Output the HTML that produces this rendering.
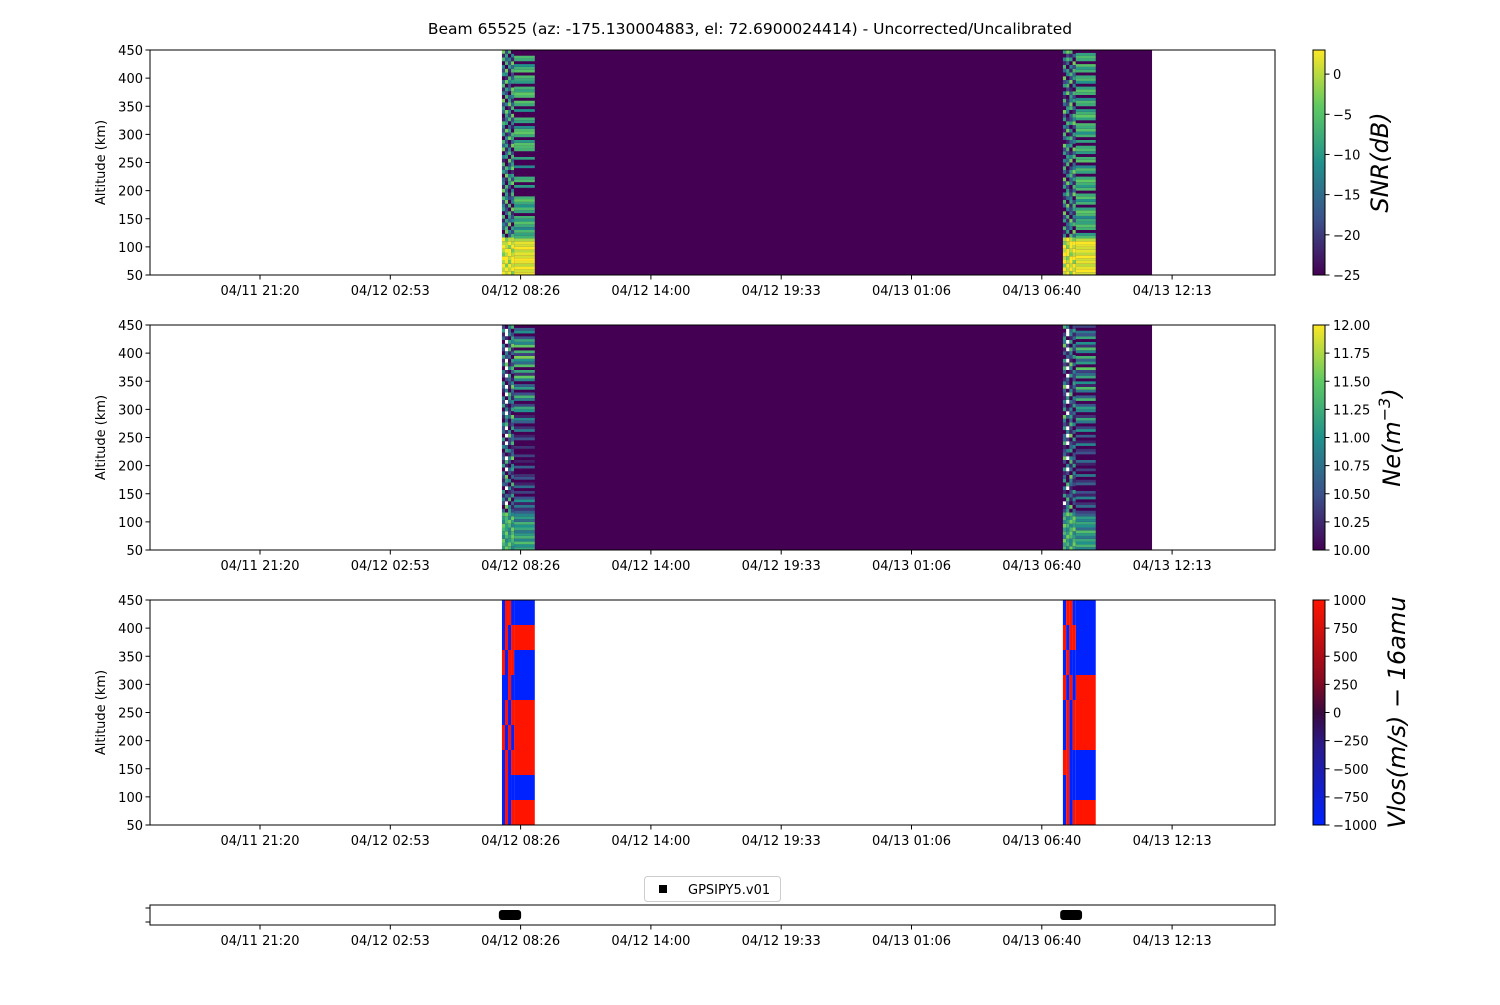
<!DOCTYPE html>
<html><head><meta charset="utf-8"><style>
html,body{margin:0;padding:0;background:#fff;}
svg text{font-family:"DejaVu Sans","Liberation Sans",sans-serif;}
</style></head><body>
<svg id="fig" xmlns="http://www.w3.org/2000/svg" width="1500" height="1000" viewBox="0 0 1500 1000">
<defs>
<linearGradient id="gViridis" x1="0" y1="1" x2="0" y2="0">
<stop offset="0" stop-color="#440154"/><stop offset="0.25" stop-color="#3b528b"/><stop offset="0.5" stop-color="#21918c"/><stop offset="0.75" stop-color="#5ec962"/><stop offset="1" stop-color="#fde725"/>
</linearGradient>
<linearGradient id="gVlos" x1="0" y1="1" x2="0" y2="0">
<stop offset="0" stop-color="#0022ff"/><stop offset="0.35" stop-color="#2a1a8a"/><stop offset="0.5" stop-color="#3a0a40"/><stop offset="0.65" stop-color="#8a0a20"/><stop offset="1" stop-color="#ff1400"/>
</linearGradient>
</defs>
<text x="750" y="34" text-anchor="middle" font-size="15.5">Beam 65525 (az: -175.130004883, el: 72.6900024414) - Uncorrected/Uncalibrated</text>
<g id="layer"></g>
</svg>
<script>
// ---- data ----
const tickTimes = [1280, 1613.33, 1946.67, 2280, 2613.33, 2946.67, 3280, 3613.33];
const tickLabels = ["04/11 21:20","04/12 02:53","04/12 08:26","04/12 14:00","04/12 19:33","04/13 01:06","04/13 06:40","04/13 12:13"];
const altTicks = [50,100,150,200,250,300,350,400,450];
const block1 = [1899, 1930, 1983];
const block2 = [3334, 3367, 3418];
const darkSpan = [1899, 3562];
const markerSpans = [[1891, 1948], [3327, 3383]];
const snrTicks = [0,-5,-10,-15,-20,-25];
const neTicks = [10,10.25,10.5,10.75,11,11.25,11.5,11.75,12];
const vlosTicks = [-1000,-750,-500,-250,0,250,500,750,1000];

const snrStripe1 = [2,1,3,0,2,3,1,2,0,3,1,2,-1,-7,-9,-6,-12,-8,-5,-10,-7,-25,-9,-6,-11,-8,-4,-7,-25,-25,-25,-10,-25,-6,-8,-25,-25,-25,-12,-25,-25,-9,-25,-25,-7,-6,-5,-10,-25,-8,-4,-6,-12,-25,-9,-7,-25,-25,-11,-25,-8,-5,-25,-6,-4,-9,-7,-25,-10,-8,-6,-25,-5,-7,-11,-25,-8,-6,-25,-25];
const snrStripe2 = [1,3,2,0,2,1,3,0,2,1,2,3,0,-6,-10,-25,-7,-5,-9,-8,-12,-6,-4,-9,-25,-7,-11,-5,-8,-25,-6,-10,-7,-4,-8,-25,-9,-6,-12,-25,-5,-7,-25,-10,-6,-8,-25,-9,-25,-7,-11,-5,-8,-6,-25,-9,-4,-7,-10,-25,-8,-6,-12,-25,-7,-5,-9,-25,-11,-6,-8,-25,-7,-10,-5,-25,-8,-6,-9,-25];
const neStripe1 = [11.2,11.0,11.4,10.9,11.3,11.1,10.8,11.2,11.0,11.3,10.7,11.1,10.9,10.6,10.3,10.8,10.2,11.0,10.5,10.0,10.4,10.0,10.7,10.2,10.0,10.5,10.3,10.0,10.0,10.6,10.0,10.2,10.0,10.4,10.0,10.0,10.3,10.0,10.0,10.5,10.2,10.0,10.8,10.3,10.0,10.6,10.9,10.2,10.0,11.0,11.2,10.4,10.0,10.8,11.3,10.5,10.0,11.1,10.6,10.0,10.9,11.5,10.3,11.2,10.0,11.4,10.7,11.0,11.6,10.4,11.3,10.0,11.5,10.9,11.2,10.5,10.0,11.0,10.6,10.0];
const neStripe2 = [10.9,11.3,11.0,11.2,10.8,11.1,11.4,10.7,11.0,11.2,10.9,11.1,10.6,10.4,10.0,10.7,10.3,10.0,10.9,10.2,10.5,10.0,10.0,10.6,10.3,10.0,10.8,10.0,10.4,10.0,10.2,10.7,10.0,10.0,10.5,10.3,10.0,10.9,10.2,10.0,10.6,10.0,11.0,10.4,10.0,10.8,11.2,10.3,10.0,10.9,11.1,10.5,10.0,11.3,10.6,10.0,10.8,11.4,10.2,11.0,10.0,11.2,10.7,10.4,11.5,10.0,11.1,10.6,11.3,10.0,10.9,11.4,10.3,11.0,10.0,11.2,10.5,10.8,10.0,10.4];
const snrSpeckle1 = "9897 8989 9798 8979 9989 7898 8997 9879 8898 9788 5036 0742 3605 4270 1534 6052 0361 5207 4160 2704 6423 0516 7304 1620 4057 3162 0745 5301 2647 6025 1073 4506 0362 7140 3517 6203 0475 5126 2750 4031 6504 1362 0527 3740 5016 2473 7051 0634 4206 1537 6020 3745 0163 5402 2716 4053 0627 6341 1504 7260";
const snrSpeckle2 = "8979 9898 7989 9897 8799 9978 8989 9798 7899 8987 4063 1507 6240 0356 5172 2604 7031 0425 3716 6052 1340 4627 0513 5206 2741 7035 0462 3157 6024 1603 4370 0546 5213 2607 7450 0134 3562 6015 1740 4302 0657 5124 2036 7401 0563 3270 6145 1052 4736 0210 5604 2371 7025 0463 3516 6042 1307 4650 0213 5760";
const neSpeckle1 = "5764 6575 7456 4657 5746 6547 7564 4675 5647 6754 3052 0741 2.03 4160 1325 5012 0.41 3206 1540 2703 4021 0.35 5104 1620 3.47 2013 0542 4301 1.26 5023 0.73 3140 2.05 4612 0304 1537 3.20 0415 5102 2.34 4051 0.62 1403 3.17 5024 0231 2.50 4103 0.46 3712 1.05 5230 0413 2.61 4027 0.54 3105 1.42 5.30 2046";
const neSpeckle2 = "6475 5647 7546 4765 6574 5467 7645 4576 6457 5764 2503 1470 .302 0614 5231 1025 4.10 0632 5041 3072 1204 5.30 0415 2061 7.43 3102 2450 1034 6.21 3205 3.70 0413 5.20 2164 4030 7351 0.23 5140 2015 4.32 1504 2.60 3041 7.13 4205 1302 0.52 3014 6.40 2173 5.10 0325 3140 1.62 7204 4.50 5013 2.41 0.35 6402";
const vlosWide1 = [900,-900,900,900,900,-900,-900,900,-900];
const vlosWide2 = [900,-900,-900,900,900,900,-900,-900,-900];
const vlosNarrow1 = ["BRBR","BRBB","BRBR","RBRB","BRBR","BBRB","RBRR","BRBR","BRRB"];
const vlosNarrow2 = ["BRBR","BRBB","RRBB","BRBR","BRBR","RBRB","BRBB","RBRR","BRRB"];

// ---- scales ----
const X0 = 150, X1 = 1275;
function xOf(t){ return 260 + (t - 1280) * 130.3 / 333.333; }
const panelTops = [50, 325, 600], PH = 225;
function yOf(top, alt){ return top + PH - (alt - 50) / 400 * PH; }
const NS = "http://www.w3.org/2000/svg";
const layer = document.getElementById('layer');
const FS = 13;
function mk(tag, attrs, parent){
  const e = document.createElementNS(NS, tag);
  for (const k in attrs) e.setAttribute(k, attrs[k]);
  (parent || layer).appendChild(e);
  return e;
}
const vir = [[68,1,84],[59,82,139],[33,145,140],[94,201,98],[253,231,37]];
function viridis(f){
  f = Math.max(0, Math.min(1, f));
  const p = f * 4, i = Math.min(3, Math.floor(p)), r = p - i;
  const a = vir[i], b = vir[i+1];
  return `rgb(${Math.round(a[0]+(b[0]-a[0])*r)},${Math.round(a[1]+(b[1]-a[1])*r)},${Math.round(a[2]+(b[2]-a[2])*r)})`;
}
function vlosColor(v){ return v >= 0 ? '#ff1400' : '#0022ff'; }

function drawStripe(g, top, tA, tB, vals, vmin, vmax){
  const n = vals.length, x = xOf(tA), w = xOf(tB) - x;
  vals.forEach((v, i) => {
    if (v === null) return;
    const a0 = 50 + i * 400 / n, a1 = 50 + (i + 1) * 400 / n;
    const r = mk('rect', {x: x, y: yOf(top, a1), width: w, height: yOf(top, a0) - yOf(top, a1), fill: viridis((v - vmin) / (vmax - vmin))}, g);
    
    
  });
}
function drawSpeckle(g, top, tA, tB, str, vmin, vmax){
  const rows = str.split(' '), n = rows.length, x0 = xOf(tA), W = xOf(tB) - x0;
  rows.forEach((row, i) => {
    const a0 = 50 + i * 400 / n, a1 = 50 + (i + 1) * 400 / n;
    const cw = W / row.length;
    for (let j = 0; j < row.length; j++) {
      const c = row[j];
      let fill = '#ffffff';
      if (c !== '.') { const v = vmin + (+c) / 9 * (vmax - vmin); fill = viridis((v - vmin) / (vmax - vmin)); }
      const r = mk('rect', {x: x0 + j * cw, y: yOf(top, a1), width: cw, height: yOf(top, a0) - yOf(top, a1), fill: fill}, g);
      
      
    }
  });
}
function drawVlos(g, top, blk, wide, narrow){
  const n = wide.length;
  wide.forEach((v, i) => {
    const a0 = 50 + i * 400 / n, a1 = 50 + (i + 1) * 400 / n;
    const y = yOf(top, a1), h = yOf(top, a0) - y;
    const r = mk('rect', {x: xOf(blk[1]), y: y, width: xOf(blk[2]) - xOf(blk[1]), height: h, fill: vlosColor(v)}, g);
    
    
    const row = narrow[i], W = xOf(blk[1]) - xOf(blk[0]), cw = W / row.length;
    for (let j = 0; j < row.length; j++) {
      const c = mk('rect', {x: xOf(blk[0]) + j * cw, y: y, width: cw, height: h, fill: row[j] === 'R' ? '#ff1400' : '#0022ff'}, g);
      
      
    }
  });
}
function xAxis(top, h){
  const g = mk('g', {});
  
  
  tickTimes.forEach((t, i) => {
    const x = xOf(t);
    mk('line', {x1: x, x2: x, y1: top + h, y2: top + h + 4.5, stroke: '#000', 'stroke-width': 1}, g);
    const tx = mk('text', {x: x, y: top + h + 20, 'text-anchor': 'middle', 'font-size': FS}, g);
    
    
    tx.textContent = tickLabels[i];
  });
}
function yAxis(top){
  const g = mk('g', {});
  
  
  altTicks.forEach(a => {
    const y = yOf(top, a);
    mk('line', {x1: X0 - 4.5, x2: X0, y1: y, y2: y, stroke: '#000', 'stroke-width': 1}, g);
    const tx = mk('text', {x: X0 - 7, y: y + 5, 'text-anchor': 'end', 'font-size': FS}, g);
    
    
    tx.textContent = a;
  });
  const lab = mk('text', {x: 105, y: top + PH / 2, 'text-anchor': 'middle', 'font-size': FS, transform: `rotate(-90 105 ${top + PH / 2})`}, g);
  
  
  lab.textContent = 'Altitude (km)';
}
function colorbar(top, grad, ticks, vmin, vmax, labelParts, lx, twoDec){
  const g = mk('g', {});
  
  
  mk('rect', {x: 1313, y: top, width: 12, height: PH, fill: `url(#${grad})`, stroke: '#000', 'stroke-width': 1}, g);
  ticks.forEach(v => {
    const y = top + PH - (v - vmin) / (vmax - vmin) * PH;
    mk('line', {x1: 1325, x2: 1329.5, y1: y, y2: y, stroke: '#000'}, g);
    const tx = mk('text', {x: 1333, y: y + 5, 'font-size': FS}, g);
    
    
    tx.textContent = twoDec ? v.toFixed(2) : (v < 0 ? '\u2212' + Math.abs(v) : String(v));
  });
  const cy = top + PH / 2;
  const lab = mk('text', {x: lx, y: cy, 'text-anchor': 'middle', 'font-size': 24, 'font-style': 'italic', transform: `rotate(-90 ${lx} ${cy})`}, g);
  
  
  lab.innerHTML = labelParts;
}

// Panel 1: SNR
(function(){
  const top = panelTops[0];
  const g = mk('g', {});
  
  
  mk('rect', {x: xOf(darkSpan[0]), y: top, width: xOf(darkSpan[1]) - xOf(darkSpan[0]), height: PH, fill: '#440154'}, g);
  drawSpeckle(g, top, block1[0], block1[1], snrSpeckle1, -25, 3);
  drawStripe(g, top, block1[1], block1[2], snrStripe1, -25, 3);
  drawSpeckle(g, top, block2[0], block2[1], snrSpeckle2, -25, 3);
  drawStripe(g, top, block2[1], block2[2], snrStripe2, -25, 3);
  mk('rect', {x: X0, y: top, width: X1 - X0, height: PH, fill: 'none', stroke: '#000', 'stroke-width': 1});
  xAxis(top, PH); yAxis(top);
  colorbar(top, 'gViridis', snrTicks, -25, 3, 'SNR(dB)', 1388, false);
})();
// Panel 2: Ne
(function(){
  const top = panelTops[1];
  const g = mk('g', {});
  
  
  mk('rect', {x: xOf(darkSpan[0]), y: top, width: xOf(darkSpan[1]) - xOf(darkSpan[0]), height: PH, fill: '#440154'}, g);
  drawSpeckle(g, top, block1[0], block1[1], neSpeckle1, 10, 12);
  drawStripe(g, top, block1[1], block1[2], neStripe1, 10, 12);
  drawSpeckle(g, top, block2[0], block2[1], neSpeckle2, 10, 12);
  drawStripe(g, top, block2[1], block2[2], neStripe2, 10, 12);
  mk('rect', {x: X0, y: top, width: X1 - X0, height: PH, fill: 'none', stroke: '#000', 'stroke-width': 1});
  xAxis(top, PH); yAxis(top);
  colorbar(top, 'gViridis', neTicks, 10, 12, 'Ne(m<tspan font-size="16" dy="-10">\u22123</tspan><tspan dy="10">)</tspan>', 1400, true);
})();
// Panel 3: Vlos
(function(){
  const top = panelTops[2];
  const g = mk('g', {});
  
  
  drawVlos(g, top, block1, vlosWide1, vlosNarrow1);
  drawVlos(g, top, block2, vlosWide2, vlosNarrow2);
  mk('rect', {x: X0, y: top, width: X1 - X0, height: PH, fill: 'none', stroke: '#000', 'stroke-width': 1});
  xAxis(top, PH); yAxis(top);
  colorbar(top, 'gVlos', vlosTicks, -1000, 1000, 'Vlos(m/s) \u2212 16amu', 1405, false);
})();
// Panel 4: data availability
(function(){
  const top = 905, h = 20;
  const g = mk('g', {});
  
  
  markerSpans.forEach(s => {
    const r = mk('rect', {x: xOf(s[0]), y: top + 5, width: xOf(s[1]) - xOf(s[0]), height: 10, rx: 3, fill: '#000'}, g);
    
    
  });
  mk('rect', {x: X0, y: top, width: X1 - X0, height: h, fill: 'none', stroke: '#000', 'stroke-width': 1}, g);
  [908, 922].forEach(y => mk('line', {x1: X0 - 4.5, x2: X0, y1: y, y2: y, stroke: '#000'}, g));
  xAxis(top, h);
  const lg = mk('g', {});
  
  
  mk('rect', {x: 644.5, y: 876.5, width: 136, height: 25, rx: 3, fill: '#fff', stroke: '#ccc'}, lg);
  mk('rect', {x: 659, y: 885, width: 8, height: 8, fill: '#000'}, lg);
  const lt = mk('text', {x: 688, y: 894, 'font-size': FS}, lg);
  
  
  lt.textContent = 'GPSIPY5.v01';
})();
</script>
</body></html>
